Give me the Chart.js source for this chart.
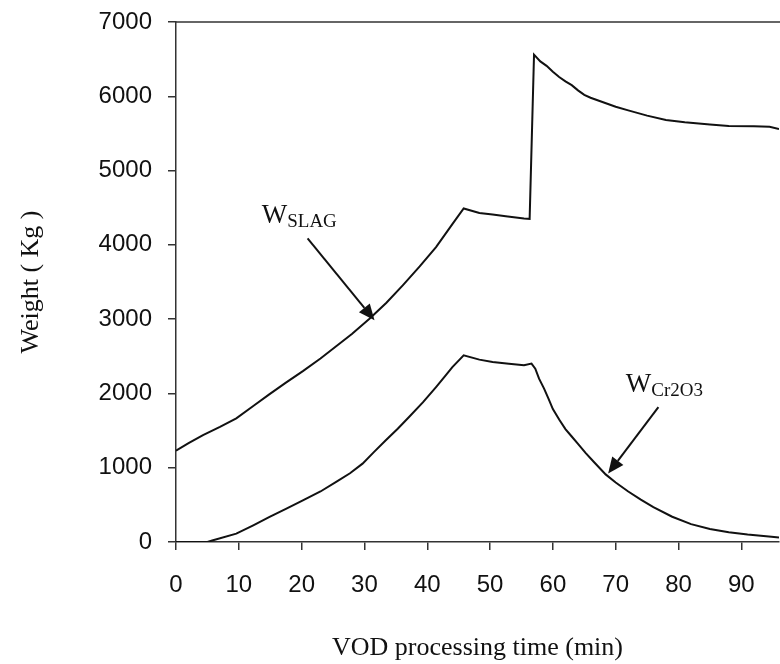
<!DOCTYPE html>
<html><head><meta charset="utf-8">
<script src="https://cdn.jsdelivr.net/npm/chart.js@4"></script>
<style>html,body{margin:0;padding:0;background:#fff}#wrap{width:780px;height:664px}</style>
</head><body><div id="wrap"><canvas id="c" width="780" height="664"></canvas></div>
<script>
// Time (min) and weight (kg) of slag
const tSlag = [0, 2, 4.3, 7, 9.6, 12.3, 14.9, 17.5, 20.2, 23, 25.5, 28, 30.8, 33.5, 36.1, 38.8, 41.4, 44, 45.8, 48.3, 50.4, 52.5, 55.4, 56.3, 57.0, 58, 59, 60, 61, 62, 63, 64, 65, 66, 68, 70, 72, 75, 78, 81, 85, 88, 92, 94.5, 96];
const wSlag = [1230, 1330, 1440, 1550, 1665, 1830, 1990, 2145, 2300, 2470, 2635, 2800, 3005, 3220, 3455, 3710, 3970, 4280, 4490, 4430, 4410, 4385, 4355, 4350, 6560, 6470, 6410, 6330, 6260, 6200, 6150, 6080, 6020, 5980, 5920, 5860, 5810, 5740, 5680, 5650, 5620, 5600, 5595, 5590, 5560];
// Time (min) and weight (kg) of Cr2O3
const tCr = [0, 5, 5.9, 9.6, 12.3, 14.9, 17.5, 20.2, 23, 25.5, 27.7, 29.7, 31.5, 33.4, 35.3, 37.1, 39.3, 41.4, 43, 44, 45.8, 48.3, 50.4, 53, 55.4, 56.6, 57.2, 57.8, 58.6, 59.3, 60, 61, 62, 63, 64, 65.2, 66.5, 68.4, 70, 72, 74, 76, 79, 82, 85, 88, 91, 94.8, 96];
const wCr = [0, 0, 23, 113, 225, 337, 445, 561, 680, 808, 925, 1055, 1210, 1369, 1525, 1683, 1880, 2086, 2250, 2355, 2513, 2455, 2423, 2401, 2378, 2401, 2333, 2199, 2064, 1930, 1790, 1650, 1520, 1420, 1320, 1200, 1080, 910, 800, 680, 570, 470, 340, 240, 175, 130, 100, 70, 60];
const xTicks = [0, 10, 20, 30, 40, 50, 60, 70, 80, 90];
const yTicks = [0, 1000, 2000, 3000, 4000, 5000, 6000, 7000];
const xLabel = 'VOD processing time (min)';
const yLabel = 'Weight ( Kg )';
const seriesNames = ['SLAG', 'Cr2O3'];

// Annotation anchors in data units (label position, arrow tail, arrow tip)
const labelAnchors = [[13.65, 4290], [71.6, 2015]];
const arrowTails = [[20.95, 4088], [76.8, 1817]];
const arrowTips = [[31.6, 2985], [68.8, 921]];

const pts = (ts, ws) => ts.map((t, i) => ({x: t, y: ws[i]}));

const framePlugin = {
  id: 'frame',
  afterDraw(chart) {
    const {ctx, chartArea: a} = chart;
    ctx.save();
    ctx.strokeStyle = '#333';
    ctx.lineWidth = 1.5;
    ctx.beginPath();
    ctx.moveTo(a.left, a.top);
    ctx.lineTo(chart.width, a.top);
    ctx.stroke();
    ctx.restore();
  }
};

const annotPlugin = {
  id: 'annot',
  afterDatasetsDraw(chart) {
    const {ctx} = chart;
    const xs = chart.scales.x, ys = chart.scales.y;
    ctx.save();
    seriesNames.forEach((name, i) => {
      const lx = xs.getPixelForValue(labelAnchors[i][0]);
      const ly = ys.getPixelForValue(labelAnchors[i][1]);
      ctx.fillStyle = '#111';
      ctx.textBaseline = 'alphabetic';
      ctx.textAlign = 'left';
      ctx.font = '27px "Liberation Serif"';
      ctx.fillText('W', lx, ly);
      const w = ctx.measureText('W').width;
      ctx.font = '19px "Liberation Serif"';
      ctx.fillText(name, lx + w, ly + 4);
      // arrow
      const x1 = xs.getPixelForValue(arrowTails[i][0]);
      const y1 = ys.getPixelForValue(arrowTails[i][1]);
      const x2 = xs.getPixelForValue(arrowTips[i][0]);
      const y2 = ys.getPixelForValue(arrowTips[i][1]);
      const ang = Math.atan2(y2 - y1, x2 - x1);
      const L = 16, W = 7;
      const bx = x2 - L * Math.cos(ang), by = y2 - L * Math.sin(ang);
      ctx.strokeStyle = '#111';
      ctx.lineWidth = 2;
      ctx.beginPath();
      ctx.moveTo(x1, y1);
      ctx.lineTo(bx, by);
      ctx.stroke();
      ctx.beginPath();
      ctx.moveTo(x2, y2);
      ctx.lineTo(bx + W * Math.sin(ang), by - W * Math.cos(ang));
      ctx.lineTo(bx - W * Math.sin(ang), by + W * Math.cos(ang));
      ctx.closePath();
      ctx.fill();
    });
    ctx.restore();
  }
};

const tickFont = {family: '"Liberation Sans", Arial, sans-serif', size: 24};
const titleFont = {family: '"Liberation Serif", "Times New Roman", serif', size: 26};

new Chart(document.getElementById('c'), {
  type: 'line',
  data: {
    datasets: [
      {label: 'W_SLAG', data: pts(tSlag, wSlag), borderColor: '#111', borderWidth: 2, pointRadius: 0, tension: 0, fill: false},
      {label: 'W_Cr2O3', data: pts(tCr, wCr), borderColor: '#111', borderWidth: 2, pointRadius: 0, tension: 0, fill: false}
    ]
  },
  options: {
    responsive: false,
    animation: false,
    devicePixelRatio: 1,
    layout: {padding: {top: 22, right: 1, left: 0, bottom: 0}},
    plugins: {legend: {display: false}, tooltip: {enabled: false}},
    scales: {
      x: {
        type: 'linear', min: 0, max: 96,
        afterBuildTicks: s => { s.ticks = xTicks.map(v => ({value: v})); },
        afterFit: s => { s.height = 122; s.paddingLeft = 0; s.paddingRight = 0; },
        ticks: {font: tickFont, color: '#111', padding: 21, maxRotation: 0, autoSkip: false, includeBounds: false, callback: v => String(v)},
        grid: {drawOnChartArea: false, tickLength: 8, color: '#333', lineWidth: 1.5},
        border: {color: '#333', width: 1.5},
        title: {display: true, text: xLabel, font: titleFont, color: '#111', padding: {top: 0, bottom: 0}}
      },
      y: {
        type: 'linear', min: 0, max: 7000,
        afterBuildTicks: s => { s.ticks = yTicks.map(v => ({value: v})); },
        afterFit: s => { s.width = 176; s.paddingTop = 0; s.paddingBottom = 0; },
        ticks: {font: tickFont, color: '#111', padding: 16, callback: v => String(v)},
        grid: {drawOnChartArea: false, tickLength: 8, color: '#333', lineWidth: 1.5},
        border: {color: '#333', width: 1.5},
        title: {display: true, text: yLabel, font: titleFont, color: '#111', padding: {top: 16, bottom: 0}}
      }
    }
  },
  plugins: [framePlugin, annotPlugin]
});
</script>
</body></html>
